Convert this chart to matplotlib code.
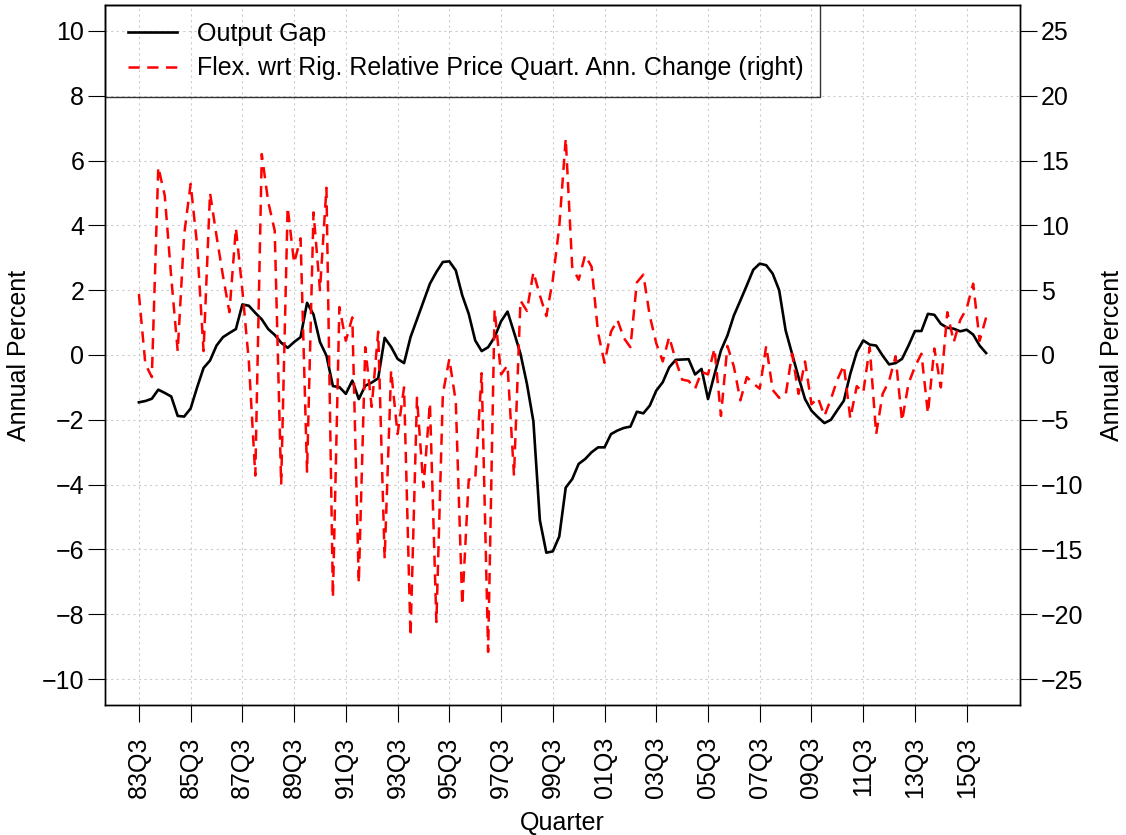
import matplotlib
matplotlib.use("Agg")
import matplotlib.pyplot as plt
from matplotlib.lines import Line2D
from matplotlib.legend_handler import HandlerLine2D
import numpy as np

plt.rcParams['font.family'] = ['Liberation Sans', 'DejaVu Sans']

# Output gap (left axis, annual percent), quarterly from 83Q3
output_gap = [
    -1.46, -1.42, -1.35, -1.07, -1.17, -1.28, -1.88, -1.90, -1.65, -1.00,
    -0.40, -0.17, 0.29, 0.55, 0.68, 0.80, 1.56, 1.52, 1.30, 1.10,
    0.80, 0.62, 0.38, 0.22, 0.40, 0.55, 1.61, 1.25, 0.40, -0.02,
    -0.96, -0.99, -1.20, -0.79, -1.36, -0.95, -0.85, -0.72, 0.53, 0.25,
    -0.12, -0.25, 0.55, 1.10, 1.65, 2.20, 2.56, 2.87, 2.89, 2.61,
    1.84, 1.27, 0.45, 0.12, 0.24, 0.55, 1.04, 1.34, 0.70, 0.04,
    -0.89, -2.05, -5.10, -6.10, -6.06, -5.60, -4.09, -3.83, -3.36, -3.21,
    -3.00, -2.85, -2.85, -2.44, -2.33, -2.25, -2.21, -1.75, -1.80, -1.56,
    -1.10, -0.84, -0.38, -0.15, -0.14, -0.13, -0.60, -0.43, -1.36, -0.60,
    0.14, 0.60, 1.22, 1.68, 2.15, 2.63, 2.82, 2.77, 2.51, 2.00,
    0.76, 0.04, -0.69, -1.36, -1.72, -1.92, -2.10, -2.00, -1.70, -1.41,
    -0.58, 0.09, 0.45, 0.32, 0.29, -0.02, -0.29, -0.25, -0.12, 0.29,
    0.74, 0.74, 1.27, 1.24, 0.96, 0.84, 0.81, 0.73, 0.78, 0.63,
    0.29, 0.06,
]

# Flexible wrt rigid relative price, quarterly annualised change (right axis)
relative_price = [
    4.7, -0.7, -1.7, 14.5, 12.3, 6.0, 0.3, 9.3, 13.2, 8.5,
    0.3, 12.5, 9.2, 6.1, 3.3, 9.8, 5.0, -0.5, -9.3, 15.5,
    11.8, 9.6, -10.0, 11.4, 7.1, 9.0, -9.0, 11.0, 5.0, 12.9,
    -18.7, 3.7, 1.1, 2.9, -17.6, 0.6, -4.0, 1.8, -15.7, -1.2,
    -6.1, -2.5, -21.7, -3.3, -10.2, -3.7, -20.6, -3.0, -0.3, -3.6,
    -19.3, -9.6, -9.6, -1.4, -22.9, 3.5, -1.5, -0.8, -9.3, 4.2,
    3.4, 6.4, 4.6, 3.0, 5.8, 9.9, 16.7, 6.8, 5.8, 7.7,
    6.8, 1.7, -0.6, 1.8, 2.7, 1.3, 0.6, 5.6, 6.2, 3.0,
    0.9, -0.5, 1.4, -0.4, -1.9, -2.0, -2.6, -1.3, -1.5, 0.5,
    -4.7, 0.7, -0.9, -3.5, -1.7, -2.2, -2.6, 0.7, -2.7, -3.3,
    -3.1, 0.1, -3.0, -0.5, -3.8, -3.3, -4.7, -3.4, -1.9, -0.8,
    -4.9, -2.4, -2.9, 0.6, -6.1, -3.0, -2.0, -0.1, -5.1, -2.2,
    -0.9, 0.1, -4.5, 0.5, -2.5, 3.3, 1.0, 2.7, 3.6, 5.5,
    1.1, 2.9,
]

tick_labels = ["83Q3", "85Q3", "87Q3", "89Q3", "91Q3", "93Q3", "95Q3", "97Q3",
               "99Q3", "01Q3", "03Q3", "05Q3", "07Q3", "09Q3", "11Q3", "13Q3", "15Q3"]
left_ticks = [-10, -8, -6, -4, -2, 0, 2, 4, 6, 8, 10]
right_ticks = [-25, -20, -15, -10, -5, 0, 5, 10, 15, 20, 25]

# quarter categories
quarters = []
yr, q = 1983, 3
for _ in range(len(output_gap)):
    quarters.append(f"{yr % 100:02d}Q{q}")
    q += 1
    if q > 4:
        q = 1
        yr += 1
x = np.arange(len(quarters))
tick_pos = [quarters.index(t) for t in tick_labels]

FS = 18
W, H = 1126, 835
fig = plt.figure(figsize=(W / 100, H / 100), dpi=100)
ax = fig.add_axes([105 / W, 1 - 705 / H, 915 / W, 700 / H])
ax2 = ax.twinx()

n = len(x) - 1
pad = 0.04 * n
ax.set_xlim(-pad, n + pad)
ax.set_ylim(-10.8, 10.8)
ax2.set_ylim(-27, 27)

grid_kw = dict(color="#cccccc", linewidth=0.8, linestyle=(0, (2, 3)), zorder=0)
for t in tick_pos:
    ax.axvline(t, **grid_kw)
for t in left_ticks:
    ax.axhline(t, **grid_kw)

l1, = ax.plot(x, output_gap, color="black", linewidth=1.9, label="Output Gap", zorder=3)
l2, = ax2.plot(x, relative_price, color="red", linewidth=1.8, linestyle=(0, (4.5, 3)),
               label="Flex. wrt Rig. Relative Price Quart. Ann. Change (right)", zorder=3)

ax.set_xticks(tick_pos)
ax.set_xticklabels(tick_labels, rotation=90, va="top", ha="center")
ax.set_yticks(left_ticks)
ax.set_yticklabels([f"{v}".replace("-", "\u2212") for v in left_ticks])
ax2.set_yticks(right_ticks)
ax2.set_yticklabels([f"{v}".replace("-", "\u2212") for v in right_ticks])

ax.tick_params(axis="x", direction="out", length=12, width=0.8, labelsize=FS, pad=11)
ax.tick_params(axis="y", direction="out", length=12, width=0.8, labelsize=FS, pad=3)
ax2.tick_params(axis="y", direction="out", length=12, width=0.8, labelsize=FS, pad=3)

for a in (ax, ax2):
    for s in a.spines.values():
        s.set_linewidth(1.0)
        s.set_color("black")

ax.set_ylabel("Annual Percent", fontsize=FS, labelpad=8)
ax2.set_ylabel("Annual Percent", fontsize=FS, rotation=90, labelpad=12)
ax.set_xlabel("Quarter", fontsize=FS, labelpad=9)

leg = ax2.legend(handles=[l1, l2], loc="upper left", bbox_to_anchor=(0, 1),
                 borderaxespad=0, fontsize=FS, frameon=True, fancybox=False,
                 handlelength=2.2, handletextpad=0.8, borderpad=0.67,
                 labelspacing=0.43,
                 handler_map={Line2D: HandlerLine2D(xpad=0.25)})
leg.get_frame().set_edgecolor("black")
leg.get_frame().set_facecolor("none")
leg.get_frame().set_linewidth(1.0)

fig.savefig("out.png", dpi=100)
